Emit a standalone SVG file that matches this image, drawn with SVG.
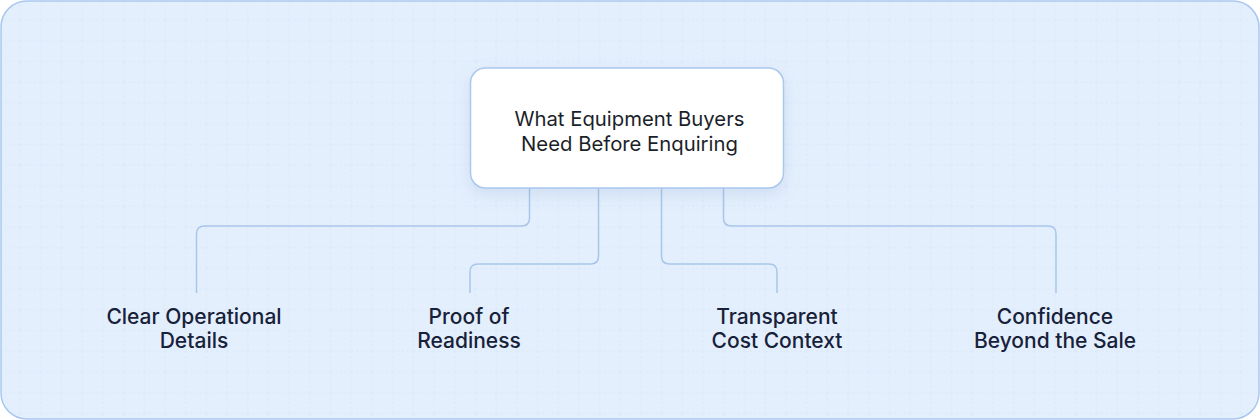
<svg xmlns="http://www.w3.org/2000/svg" width="1260" height="420" viewBox="0 0 1260 420">
  <defs>
    <style>
      .conn { fill: none; stroke: #a9c6ea; stroke-width: 1.5; }
      .title { font-family: Inter, "Liberation Sans", sans-serif; font-size: 20.3px; font-weight: 400; fill: #1b1f2a; text-anchor: middle; }
      .label { font-family: Inter, "Liberation Sans", sans-serif; font-size: 21px; font-weight: 500; fill: #17213a; text-anchor: middle; }
    </style>
    <pattern id="grid" x="0" y="0" width="20.7" height="20.7" patternUnits="userSpaceOnUse">
      <line x1="0" y1="20" x2="20.7" y2="20" stroke="#d3e2f4" stroke-width="0.8" stroke-dasharray="1.5 3"/>
      <line x1="20" y1="0" x2="20" y2="20.7" stroke="#d3e2f4" stroke-width="0.8" stroke-dasharray="1.5 3"/>
    </pattern>
    <filter id="shadow" x="-20%" y="-30%" width="140%" height="170%">
      <feDropShadow dx="0" dy="6" stdDeviation="8" flood-color="#6f93c4" flood-opacity="0.18"/>
    </filter>
  </defs>

  <g id="background">
    <rect x="1" y="1" width="1258" height="418" rx="26" ry="26" fill="#e4effd"/>
    <rect x="1" y="1" width="1258" height="418" rx="26" ry="26" fill="url(#grid)"/>
    <rect x="1" y="1" width="1258" height="418" rx="26" ry="26" fill="none" stroke="#a9c8ef" stroke-width="1.5"/>
  </g>

  <g id="connectors">
    <path class="conn" d="M529.5 188 V218 Q529.5 226 521.5 226 H204.5 Q196.5 226 196.5 234 V293"/>
    <path class="conn" d="M598.5 188 V256 Q598.5 264 590.5 264 H478 Q470 264 470 272 V293"/>
    <path class="conn" d="M661.5 188 V256 Q661.5 264 669.5 264 H769 Q777 264 777 272 V293"/>
    <path class="conn" d="M723.5 188 V218 Q723.5 226 731.5 226 H1048 Q1056 226 1056 234 V293"/>
  </g>

  <g id="node-root">
    <rect x="470.5" y="68" width="313" height="120" rx="15" ry="15" fill="#ffffff" stroke="#a9c8ef" stroke-width="1.5" filter="url(#shadow)"/>
    <text class="title" x="629.5" y="126">What Equipment Buyers</text>
    <text class="title" x="629.5" y="151">Need Before Enquiring</text>
  </g>

  <g id="node-operational">
    <text class="label" x="194" y="324">Clear Operational</text>
    <text class="label" x="194" y="348">Details</text>
  </g>

  <g id="node-readiness">
    <text class="label" x="469" y="324">Proof of</text>
    <text class="label" x="469" y="348">Readiness</text>
  </g>

  <g id="node-cost">
    <text class="label" x="777" y="324">Transparent</text>
    <text class="label" x="777" y="348">Cost Context</text>
  </g>

  <g id="node-confidence">
    <text class="label" x="1055" y="324">Confidence</text>
    <text class="label" x="1055" y="348">Beyond the Sale</text>
  </g>
</svg>
